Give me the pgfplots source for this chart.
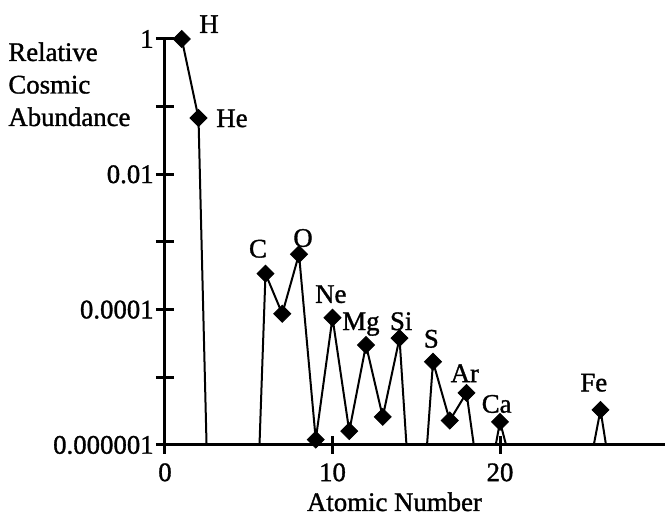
\documentclass[border=0pt]{standalone}
\usepackage{fontspec}
\setmainfont{Liberation Serif}[FakeBold=1.2]
\usepackage{pgfplots}
\pgfplotsset{compat=1.18}
\pgfplotstableread{
x y
1 1.0
2 0.068
3 6.0e-12
4 1.0e-12
5 3.0e-11
6 3.4e-4
7 8.7e-5
8 6.6e-4
9 1.2e-6
10 7.6e-5
11 1.6e-6
12 3.0e-5
13 2.6e-6
14 3.8e-5
15 6.0e-9
16 1.7e-5
17 2.3e-6
18 5.9e-6
19 1.0e-7
20 2.2e-6
21 2.5e-7
22 1.0e-8
23 1.0e-8
24 1.0e-8
25 1.7e-7
26 3.3e-6
27 8.7e-8
}\alldata
\pgfplotstableread{
x y
1 1.0
2 0.068
6 3.4e-4
7 8.7e-5
8 6.6e-4
9 1.2e-6
10 7.6e-5
11 1.6e-6
12 3.0e-5
13 2.6e-6
14 3.8e-5
16 1.7e-5
17 2.3e-6
18 5.9e-6
20 2.2e-6
26 3.3e-6
}\markdata
\begin{document}
\fontsize{13.4}{16.25}\selectfont
\begin{tikzpicture}
\begin{axis}[
  scale only axis, width=250pt, height=203pt,
  xmin=0, xmax=29.85, ymode=log, ymin=1e-6, ymax=1,
  axis lines=left, axis line style={-, line width=1.5pt},
  xtick={0,10,20},
  ytick={1,0.1,0.01,0.001,0.0001,0.00001,0.000001},
  yticklabels={1,,0.01,,0.0001,,0.000001},
  minor ytick={}, minor xtick={},
  tick align=center, major tick length=9pt,
  tick style={line width=1.5pt, black},
  /pgf/number format/assume math mode=true,
  ticklabel style={font=\fontsize{13.4}{15}\selectfont},
  yticklabel style={xshift=3.5pt},
  clip mode=individual,
]
\coordinate (O) at (rel axis cs:0,0);
\addplot[black, line width=1pt, mark=none] table {\alldata};
\addplot[only marks, mark=square*, mark size=3pt, mark options={rotate=45, fill=black, draw=black}] table {\markdata};
\node[anchor=base] at (axis cs:2.63,1.23) {H};
\node[anchor=base] at (axis cs:4.0,0.050) {He};
\node[anchor=base] at (axis cs:5.55,5.9e-4) {C};
\node[anchor=base] at (axis cs:8.24,8.5e-4) {O};
\node[anchor=base] at (axis cs:9.9,1.26e-4) {Ne};
\node[anchor=base] at (axis cs:11.7,5.0e-5) {Mg};
\node[anchor=base] at (axis cs:14.1,5.0e-5) {Si};
\node[anchor=base] at (axis cs:15.9,2.75e-5) {S};
\node[anchor=base] at (axis cs:17.9,8.5e-6) {Ar};
\node[anchor=base] at (axis cs:19.8,3.0e-6) {Ca};
\node[anchor=base] at (axis cs:25.6,6.2e-6) {Fe};
\node[anchor=base] at (axis cs:13.7,1e-6) [yshift=-33pt] {Atomic Number};
\end{axis}
\node[anchor=north west, align=left, inner sep=0pt] at ([shift={(-78.5pt,201.5pt)}]O) {Relative\\Cosmic\\Abundance};
\pgfresetboundingbox
\path ([shift={(-82.5pt,-38.5pt)}]O) rectangle ([shift={(250pt,222.5pt)}]O);
\end{tikzpicture}
\end{document}
